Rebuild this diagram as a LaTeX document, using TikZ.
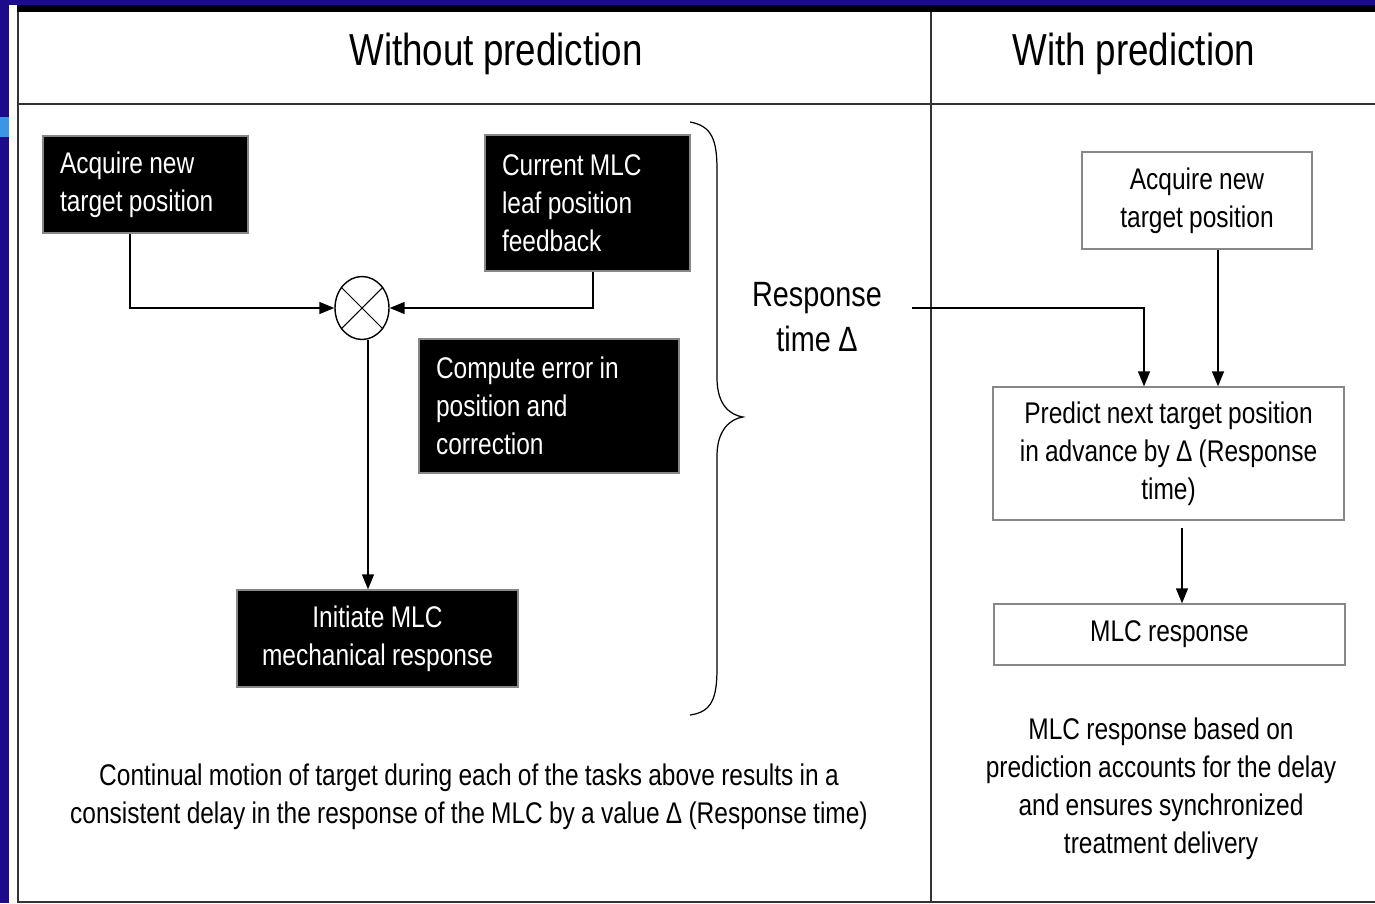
\documentclass[tikz,border=0pt]{standalone}
\usepackage{fontspec}
\setmainfont[FakeStretch=0.82, WordSpace=0.92]{Liberation Sans}
\usetikzlibrary{shapes,arrows.meta,positioning}
\usepackage{xcolor}

\definecolor{slideblue}{RGB}{28,12,140}
\definecolor{slidecyan}{RGB}{60,150,230}
\definecolor{boxgray}{RGB}{135,135,135}

\newcommand{\headfont}{\fontsize{25.5}{30}\selectfont}
\newcommand{\boxfont}{\fontsize{17}{21.6}\selectfont}
\newcommand{\respfont}{\fontsize{20}{25.6}\selectfont}

\tikzset{
  blackbox/.style={draw=boxgray, line width=0.8pt, fill=black, text=white, inner xsep=0.34cm, font=\boxfont,
    execute at begin node={\spaceskip=0pt\xspaceskip=0pt\relax}},
  whitebox/.style={draw=boxgray, line width=0.8pt, fill=white, align=center, font=\boxfont},
  arr/.style={line width=0.8pt, -{Triangle[length=0.3cm,width=0.24cm]}},
  rule/.style={line width=1pt, black!80}
}

\begin{document}
\begin{tikzpicture}[x=0.02cm, y=-0.02cm]
	\useasboundingbox (0,0) rectangle (1375,903);
	% Slide background with the white sheet on it
	\fill[slideblue] (0,0) rectangle (1375,903);
	\fill[slidecyan] (0,117) rectangle (9,137);
	\fill[white] (9,5) rectangle (1375,903);
	\fill[black] (17,5) rectangle (1375,12);

	% Table lines
	\draw[rule] (18,12) -- (18,902) -- (1375,902);
	\draw[rule] (18,104) -- (1375,104);
	\draw[rule] (931,12) -- (931,902);

	% Column headings
	\node[font=\headfont] (headL) at (496,54) {Without prediction};
	\node[font=\headfont] (headR) at (1134,54) {With prediction};

	% Left column: loop without prediction
	\node[blackbox, text width=3.42cm, minimum height=1.94cm, align=left] (acqL) at (145.5,184.5) {Acquire new\\target position};
	\node[blackbox, text width=3.42cm, minimum height=2.72cm, align=left] (curL) at (587.5,203) {Current MLC\\leaf position\\feedback};
	\node[blackbox, text width=4.52cm, minimum height=2.68cm, align=left] (cmpL) at (549,406) {Compute error in\\position and\\correction};
	\node[blackbox, minimum width=5.62cm, minimum height=1.94cm, align=center] (iniL) at (377.5,638.5) {Initiate MLC\\mechanical response};
	\node[draw, ellipse, line width=0.8pt, minimum width=1.08cm, minimum height=1.26cm, inner sep=0pt] (sum) at (362,308) {};
	\draw[line width=0.6pt] (sum.45) -- (sum.225) (sum.135) -- (sum.315);

	\draw[arr] ([xshift=-0.31cm]acqL.south) |- (sum.west);
	\draw[arr] ([xshift=0.11cm]curL.south) |- (sum.east);
	\coordinate (sumout) at ([xshift=0.12cm]sum.south);
	\draw[arr] (sumout) -- (sumout |- iniL.north);

	% Brace and response time
	\draw[line width=0.7pt] (690,122) .. controls (712,126) and (717,140) .. (717,170) -- (717,378)
		.. controls (717,405) and (730,415) .. (743,417) .. controls (730,419) and (717,430) .. (717,456)
		-- (717,668) .. controls (717,698) and (712,712) .. (690,715);
	\node[font=\respfont, align=center] (resp) at (817,317) {Response\\time Δ};

	% Right column: with prediction
	\node[whitebox, minimum width=4.6cm, minimum height=1.94cm] (acqR) at (1197,200.5) {Acquire new\\target position};
	\node[whitebox, minimum width=7.02cm, minimum height=2.66cm] (predR) at (1168.5,453.5) {Predict next target position\\in advance by Δ (Response\\time)};
	\node[whitebox, minimum width=7.02cm, minimum height=1.22cm] (mlcR) at (1169.5,634.5) {MLC response};

	\draw[arr] ([xshift=0.48cm,yshift=0.18cm]resp.east) -| ([xshift=-0.49cm]predR.north);
	\coordinate (acqRout) at ([xshift=0.42cm]acqR.south);
	\draw[arr] (acqRout) -- (acqRout |- predR.north);
	\coordinate (predout) at ([xshift=0.27cm,yshift=-0.14cm]predR.south);
	\draw[arr] (predout) -- (predout |- mlcR.north);

	% Notes under the columns
	\node[font=\boxfont, align=center] (noteL) at (469,797) {Continual motion of target during each of the tasks above results in a\\consistent delay in the response of the MLC by a value Δ (Response time)};
	\node[font=\boxfont, align=center] (noteR) at (1161,789) {MLC response based on\\prediction accounts for the delay\\and ensures synchronized\\treatment delivery};
\end{tikzpicture}
\end{document}
